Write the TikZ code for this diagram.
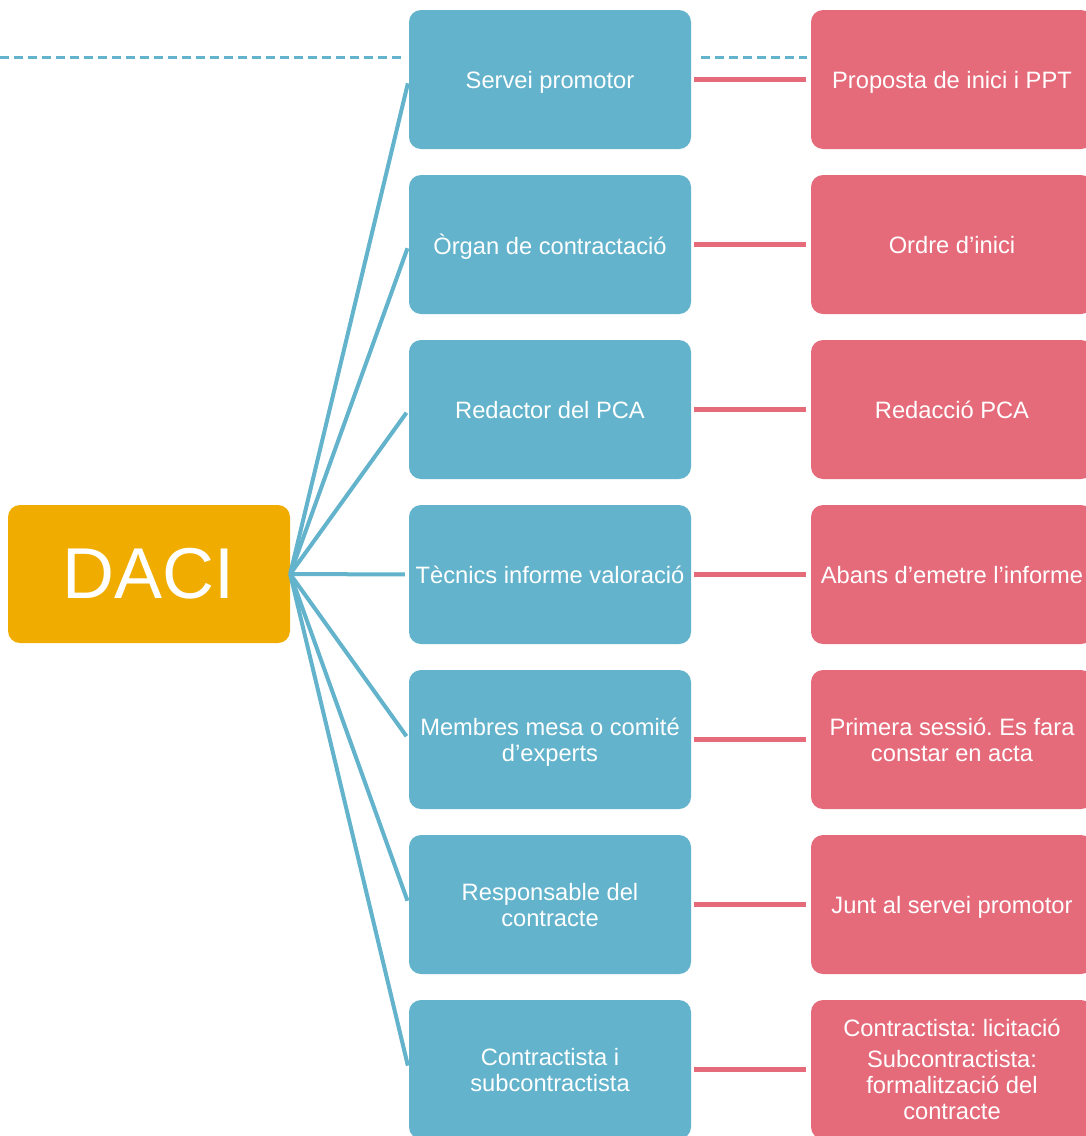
\documentclass[tikz,border=0pt]{standalone}
\usepackage{fontspec}
\setmainfont{Liberation Sans}
\frenchspacing
\definecolor{cblue}{HTML}{62B3CB}
\definecolor{cred}{HTML}{E56B7B}
\definecolor{corange}{HTML}{F0AD00}
\newcommand\mytopstrut{\rule{0pt}{17.5pt}}
\tikzset{
  box/.style={rounded corners=12pt, minimum width=282pt, minimum height=139pt, inner sep=0pt,
    text=white, align=center, font=\fontsize{23.7pt}{26pt}\selectfont,
    execute at begin node=\mytopstrut, text depth=0pt},
  bluebox/.style={box, fill=cblue},
  redbox/.style={box, fill=cred},
  hub/.style={rounded corners=12pt, inner sep=0pt, fill=corange, text=white,
    font=\fontsize{72pt}{80pt}\selectfont},
  spoke/.style={draw=cblue, line width=4pt, shorten >=4pt},
  link/.style={draw=cred, line width=4.5pt, shorten <=3pt, shorten >=5pt},
  dashline/.style={draw=cblue, line width=3pt, dash pattern=on 9pt off 5pt}
}
\begin{document}
\begin{tikzpicture}[x=1pt,y=-1pt]
\clip (0,0) rectangle (1086,1136);
\fill[white] (0,0) rectangle (1086,1136);
% dashed guide
\coordinate (d0) at (0,57);
\coordinate (d1) at (402,57);
\coordinate (d2) at (701,57);
\coordinate (d3) at (807,57);
\draw[dashline] (d0) -- (d1);
\draw[dashline] (d2) -- (d3);
% hub
\node[hub, minimum width=282pt, minimum height=138pt] (daci) at (149,574) {DACI};
% blue boxes
\node[bluebox] (b1) at (550,79.5) {Servei promotor};
\node[bluebox] (b2) at (550,244.5) {Òrgan de contractació};
\node[bluebox] (b3) at (550,409.5) {Redactor del PCA};
\node[bluebox] (b4) at (550,574.5) {Tècnics informe valoració};
\node[bluebox] (b5) at (550,739.5) {Membres mesa o comité\\d’experts};
\node[bluebox] (b6) at (550,904.5) {Responsable del\\contracte};
\node[bluebox] (b7) at (550,1069.5) {Contractista i\\subcontractista};
% red boxes
\node[redbox] (r1) at (952,79.5) {Proposta de inici i PPT};
\node[redbox] (r2) at (952,244.5) {Ordre d’inici};
\node[redbox] (r3) at (952,409.5) {Redacció PCA};
\node[redbox] (r4) at (952,574.5) {Abans d’emetre l’informe};
\node[redbox] (r5) at (952,739.5) {Primera sessió. Es fara\\constar en acta};
\node[redbox] (r6) at (952,904.5) {Junt al servei promotor};
\node[redbox] (r7) at (952,1069.5) {Contractista: licitació\\[5pt]Subcontractista:\\formalització del\\contracte};
% spokes
\foreach \i in {1,...,7} {
  \draw[spoke] (daci.east) -- (b\i.west);
  \draw[link] (b\i.east) -- (r\i.west);
}
\end{tikzpicture}
\end{document}
